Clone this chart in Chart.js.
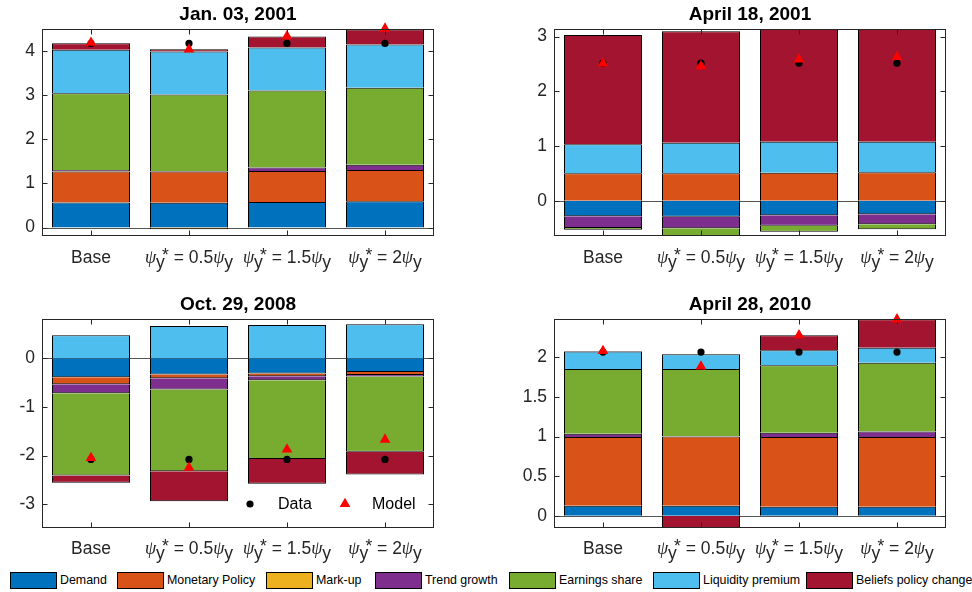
<!DOCTYPE html>
<html lang="en">
<head>
<meta charset="UTF-8">
<title>Policy rule counterfactuals</title>
<script src="https://cdn.jsdelivr.net/npm/chart.js"></script>
<style>
  body { margin: 0; background: #fff; width: 972px; height: 592px; position: relative; overflow: hidden;
         font-family: "Liberation Sans", Arial, Helvetica, sans-serif; }
  canvas { position: absolute; }
  .item { position: absolute; top: 572px; display: flex; align-items: center; white-space: nowrap; font-size: 12.4px; line-height: 17px; color: #000; }
  .swatch { width: 47px; height: 17px; box-sizing: border-box; border: 1px solid #000; margin-right: 3px; flex-shrink: 0; }
</style>
</head>
<body>
<canvas id="c1" width="486" height="282" style="left:0;top:0"></canvas>
<canvas id="c2" width="486" height="282" style="left:486px;top:0"></canvas>
<canvas id="c3" width="486" height="284" style="left:0;top:282px"></canvas>
<canvas id="c4" width="486" height="284" style="left:486px;top:282px"></canvas>

<script>
const categories = ['Base', 'ψ_y^* = 0.5ψ_y', 'ψ_y^* = 1.5ψ_y', 'ψ_y^* = 2ψ_y'];
const seriesNames = ['Demand', 'Monetary Policy', 'Mark-up', 'Trend growth', 'Earnings share', 'Liquidity premium', 'Beliefs policy change'];
const seriesColors = ['#0072BD', '#D95319', '#EDB120', '#7E2F8E', '#77AC30', '#4DBEEE', '#A2142F'];

// Jan. 03, 2001
const jan01Demand    = [0.57, 0.56, 0.58, 0.595];
const jan01Monetary  = [0.70, 0.71, 0.70, 0.705];
const jan01Markup    = [0.01, -0.035, 0.0, 0.0];
const jan01Trend     = [0.02, 0.01, 0.08, 0.12];
const jan01Earnings  = [1.74, 1.73, 1.74, 1.74];
const jan01Liquidity = [0.98, 0.97, 0.97, 0.98];
const jan01Beliefs   = [0.15, 0.05, 0.25, 0.34];
const jan01Data      = [4.165, 4.165, 4.165, 4.165];
const jan01Model     = [4.18, 4.03, 4.33, 4.50];
const jan01Ticks     = [0, 1, 2, 3, 4];

// April 18, 2001
const apr01Demand    = [-0.287, -0.293, -0.268, -0.25];
const apr01Monetary  = [0.50, 0.50, 0.512, 0.518];
const apr01Markup    = [0, 0, 0, 0];
const apr01Trend     = [-0.213, -0.213, -0.189, -0.183];
const apr01Earnings  = [-0.03, -0.16, -0.11, -0.09];
const apr01Liquidity = [0.53, 0.56, 0.567, 0.56];
const apr01Beliefs   = [2.0, 2.04, 2.06, 2.07];
const apr01Data      = [2.515, 2.515, 2.515, 2.515];
const apr01Model     = [2.51, 2.46, 2.585, 2.63];
const apr01Ticks     = [0, 1, 2, 3];

// Oct. 29, 2008
const oct08Demand    = [-0.39, -0.33, -0.31, -0.28];
const oct08Monetary  = [-0.145, -0.08, -0.06, -0.06];
const oct08Markup    = [0, 0, 0, 0];
const oct08Trend     = [-0.185, -0.23, -0.08, -0.035];
const oct08Earnings  = [-1.69, -1.68, -1.62, -1.545];
const oct08Liquidity = [0.474, 0.666, 0.686, 0.70];
const oct08Beliefs   = [-0.15, -0.62, -0.51, -0.47];
const oct08Data      = [-2.08, -2.08, -2.08, -2.08];
const oct08Model     = [-2.05, -2.25, -1.875, -1.67];
const oct08Ticks     = [-3, -2, -1, 0];

// April 28, 2010
const apr10Demand    = [0.126, 0.126, 0.114, 0.114];
const apr10Monetary  = [0.868, 0.874, 0.88, 0.88];
const apr10Markup    = [0, 0, 0, 0];
const apr10Trend     = [0.04, 0.005, 0.055, 0.07];
const apr10Earnings  = [0.82, 0.848, 0.851, 0.866];
const apr10Liquidity = [0.22, 0.187, 0.19, 0.19];
const apr10Beliefs   = [0.005, -0.2, 0.19, 0.36];
const apr10Data      = [2.067, 2.067, 2.067, 2.067];
const apr10Model     = [2.08, 1.886, 2.28, 2.48];
const apr10Ticks     = [0, 0.5, 1, 1.5, 2];

const SANS = '"Liberation Sans", Arial, Helvetica, sans-serif';
const INK = '#262626';

// split "ψ_y^* = 0.5ψ_y" into normal / greek / sub / sup pieces
function drawRich(ctx, text, cx, base) {
    const parts = [];
    for (let i = 0; i < text.length; i++) {
        const ch = text[i];
        if (ch === '_' || ch === '^') parts.push({ s: text[++i], k: ch });
        else if (ch === 'ψ') parts.push({ s: ch, k: 'g' });
        else if (parts.length && parts[parts.length - 1].k === 'n') parts[parts.length - 1].s += ch;
        else parts.push({ s: ch, k: 'n' });
    }
    const fontOf = k => k === 'g' ? 'italic 18px "Liberation Serif", "DejaVu Serif", serif' : '17.5px ' + SANS;
    let x = 0, subStart = null;
    const placed = [];
    parts.forEach(p => {
        ctx.font = fontOf(p.k);
        const w = ctx.measureText(p.s).width;
        let px = x, dy = 0;
        if (p.k === '_') { dy = 5; subStart = x; }
        else if (p.k === '^') { dy = -2; if (subStart !== null) px = subStart + 6; subStart = null; }
        else subStart = null;
        placed.push({ s: p.s, k: p.k, x: px, dy: dy });
        x = Math.max(x, px + w);
    });
    const x0 = cx - x / 2;
    ctx.textAlign = 'left';
    ctx.textBaseline = 'alphabetic';
    placed.forEach(p => {
        ctx.font = fontOf(p.k);
        ctx.fillText(p.s, x0 + p.x, base + p.dy);
    });
}

const framePlugin = {
    id: 'frame',
    beforeDatasetsDraw(chart) {
        const { ctx, chartArea: a, scales: { y } } = chart;
        const y0 = Math.round(y.getPixelForValue(0)) + 0.5;
        ctx.save();
        ctx.strokeStyle = '#555';
        ctx.lineWidth = 1;
        ctx.beginPath();
        ctx.moveTo(a.left, y0);
        ctx.lineTo(a.right, y0);
        ctx.stroke();
        ctx.restore();
    },
    afterDraw(chart) {
        const { ctx, chartArea: a, scales: { x, y } } = chart;
        const o = chart.options.plugins.frame;
        const L = Math.round(a.left) + 0.5, R = Math.round(a.right) - 0.5;
        const T = Math.round(a.top) + 0.5, B = Math.round(a.bottom) - 0.5;
        ctx.save();
        ctx.strokeStyle = INK;
        ctx.lineWidth = 1;
        ctx.strokeRect(L, T, R - L, B - T);
        ctx.beginPath();
        y.ticks.forEach(t => {
            const py = Math.round(y.getPixelForValue(t.value)) + 0.5;
            ctx.moveTo(L, py); ctx.lineTo(L + 5, py);
            ctx.moveTo(R, py); ctx.lineTo(R - 5, py);
        });
        categories.forEach((c, i) => {
            const px = Math.round(x.getPixelForValue(i)) + 0.5;
            ctx.moveTo(px, T); ctx.lineTo(px, T + 5);
            ctx.moveTo(px, B); ctx.lineTo(px, B - 5);
        });
        ctx.stroke();

        // title
        ctx.fillStyle = '#000';
        ctx.font = 'bold 19px ' + SANS;
        ctx.textAlign = 'center';
        ctx.textBaseline = 'alphabetic';
        ctx.fillText(o.title, (a.left + a.right) / 2, a.top - 9);

        // category labels
        ctx.fillStyle = INK;
        categories.forEach((c, i) => drawRich(ctx, c, x.getPixelForValue(i), a.bottom + o.labelGap));

        // Data / Model legend inside the plot
        if (o.pointLegend) {
            const ly = a.top + 185;
            ctx.fillStyle = '#000';
            ctx.beginPath();
            ctx.arc(a.left + 208, ly, 3.6, 0, Math.PI * 2);
            ctx.fill();
            ctx.fillStyle = '#ff0000';
            ctx.beginPath();
            const tx = a.left + 303, r = 6.2;
            ctx.moveTo(tx, ly - r);
            ctx.lineTo(tx + r * 0.866, ly + r / 2);
            ctx.lineTo(tx - r * 0.866, ly + r / 2);
            ctx.closePath();
            ctx.fill();
            ctx.fillStyle = '#000';
            ctx.font = '16px ' + SANS;
            ctx.textAlign = 'left';
            ctx.textBaseline = 'middle';
            ctx.fillText('Data', a.left + 236, ly + 1);
            ctx.fillText('Model', a.left + 330, ly + 1);
        }
        ctx.restore();
    }
};

function makePanel(id, title, series, data, model, yMin, yMax, ticks, box) {
    const datasets = [
        { type: 'line', label: 'Model', data: model, stack: 'model', showLine: false,
          pointStyle: 'triangle', pointRadius: 6.2, pointBackgroundColor: '#ff0000', pointBorderWidth: 0, clip: false },
        { type: 'line', label: 'Data', data: data, stack: 'data', showLine: false,
          pointStyle: 'circle', pointRadius: 3.6, pointBackgroundColor: '#000', pointBorderWidth: 0, clip: false }
    ];
    series.forEach((vals, i) => {
        datasets.push({
            type: 'bar', label: seriesNames[i], data: vals,
            backgroundColor: seriesColors[i], borderColor: '#000', borderWidth: 1, inflateAmount: 0,
            barPercentage: 78 / 98, categoryPercentage: 1.0, clip: 0
        });
    });
    new Chart(document.getElementById(id), {
        data: { labels: categories, datasets: datasets },
        options: {
            responsive: false,
            animation: false,
            devicePixelRatio: 1,
            events: [],
            layout: { autoPadding: false, padding: { left: 0, top: box.top, right: box.right, bottom: box.bottom } },
            scales: {
                x: { stacked: true, display: false, offset: true },
                y: {
                    stacked: true, min: yMin, max: yMax,
                    grid: { display: false, drawTicks: false },
                    border: { display: false },
                    afterBuildTicks: s => { s.ticks = ticks.map(v => ({ value: v })); },
                    afterFit: s => { s.width = box.left; },
                    ticks: { padding: 7, color: INK, font: { family: SANS, size: 17.5 }, callback: v => String(v) }
                }
            },
            plugins: {
                legend: { display: false },
                tooltip: { enabled: false },
                frame: { title: title, labelGap: box.labelGap, pointLegend: !!box.pointLegend }
            }
        },
        plugins: [framePlugin]
    });
}

makePanel('c1', 'Jan. 03, 2001',
    [jan01Demand, jan01Monetary, jan01Markup, jan01Trend, jan01Earnings, jan01Liquidity, jan01Beliefs],
    jan01Data, jan01Model, -0.19, 4.49, jan01Ticks,
    { left: 42, top: 29, right: 52, bottom: 46, labelGap: 27 });

makePanel('c2', 'April 18, 2001',
    [apr01Demand, apr01Monetary, apr01Markup, apr01Trend, apr01Earnings, apr01Liquidity, apr01Beliefs],
    apr01Data, apr01Model, -0.646, 3.14, apr01Ticks,
    { left: 68, top: 29, right: 26, bottom: 46, labelGap: 27 });

makePanel('c3', 'Oct. 29, 2008',
    [oct08Demand, oct08Monetary, oct08Markup, oct08Trend, oct08Earnings, oct08Liquidity, oct08Beliefs],
    oct08Data, oct08Model, -3.49, 0.81, oct08Ticks,
    { left: 42, top: 37, right: 52, bottom: 38, labelGap: 26, pointLegend: true });

makePanel('c4', 'April 28, 2010',
    [apr10Demand, apr10Monetary, apr10Markup, apr10Trend, apr10Earnings, apr10Liquidity, apr10Beliefs],
    apr10Data, apr10Model, -0.155, 2.484, apr10Ticks,
    { left: 68, top: 37, right: 26, bottom: 38, labelGap: 26 });

// shared legend under the panels, one slot per series
const legendLeft = [10, 117, 266, 375, 509, 653, 806];
seriesNames.forEach((name, i) => {
    const item = document.createElement('div');
    item.className = 'item';
    item.style.left = legendLeft[i] + 'px';
    const sw = document.createElement('span');
    sw.className = 'swatch';
    sw.style.background = seriesColors[i];
    item.appendChild(sw);
    item.appendChild(document.createTextNode(name));
    document.body.appendChild(item);
});
</script>
</body>
</html>
